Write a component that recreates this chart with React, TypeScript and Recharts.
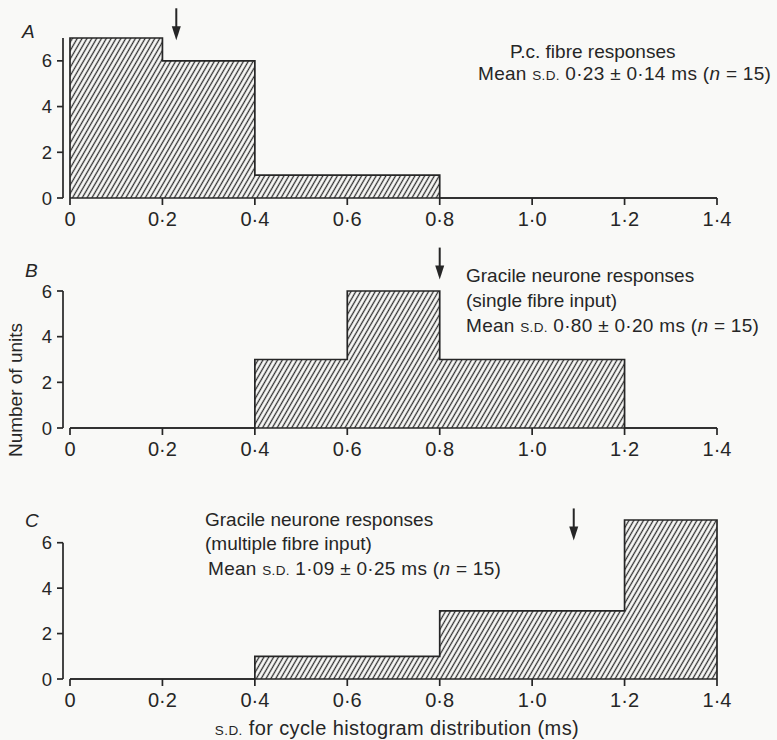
import React from "react";
import { AreaChart, Area, XAxis, YAxis, ReferenceLine, ReferenceDot } from "recharts";

// histogram bins (s.d. of cycle histogram, ms) and unit counts per panel
const binEdges = [0, 0.2, 0.4, 0.6, 0.8, 1.0, 1.2, 1.4];
const xTicks = [0, 0.2, 0.4, 0.6, 0.8, 1.0, 1.2, 1.4];
const yTicks = [0, 2, 4, 6];

const countsA = [7, 6, 1, 1, 0, 0, 0];
const countsB = [0, 0, 3, 6, 3, 3, 0];
const countsC = [0, 0, 1, 1, 3, 3, 7];

// mean s.d. per panel, shown by the arrows
const meanSd = [0.23, 0.8, 1.09];

const INK = "#262626";
const FONT = "'Liberation Sans', Arial, Helvetica, sans-serif";

function stepPoints(counts: number[]) {
  const pts = [{ x: binEdges[0], y: 0 }];
  counts.forEach((c, i) => pts.push({ x: binEdges[i], y: c }));
  const last = binEdges[binEdges.length - 1];
  pts.push({ x: last, y: counts[counts.length - 1] });
  pts.push({ x: last, y: 0 });
  return pts;
}

const fmtTick = (v: number) => (v === 0 ? "0" : v.toFixed(1).replace(".", "\u00b7"));

const Arrow = (p: any) => {
  const { cx, cy } = p;
  return (
    <g>
      <line x1={cx} y1={cy - 32} x2={cx} y2={cy - 12} stroke={INK} strokeWidth={2} />
      <path d={`M${cx - 4.5},${cy - 14} L${cx + 4.5},${cy - 14} L${cx},${cy} Z`} fill={INK} />
    </g>
  );
};

type PanelProps = {
  id: string;
  counts: number[];
  yMax: number;
  mean: number;
  tip: number;
  top: number;
  marginTop: number;
  plotHeight: number;
  axisDash?: string;
};

function Panel({ id, counts, yMax, mean, tip, top, marginTop, plotHeight, axisDash }: PanelProps) {
  const data = stepPoints(counts);
  const height = marginTop + plotHeight + 36;
  return (
    <div style={{ position: "absolute", left: 0, top }}>
      <AreaChart
        width={777}
        height={height}
        data={data}
        margin={{ top: marginTop, right: 60, left: 0, bottom: 0 }}
      >
        <defs>
          <pattern
            id={`hatch-${id}`}
            width={4.2}
            height={4.2}
            patternUnits="userSpaceOnUse"
            patternTransform="rotate(30)"
          >
            <line x1={2.1} y1={0} x2={2.1} y2={4.2} stroke="#2e2e2e" strokeWidth={1.3} />
          </pattern>
        </defs>
        <XAxis
          dataKey="x"
          type="number"
          domain={[0, 1.4]}
          ticks={xTicks}
          interval={0}
          padding={{ left: 7, right: 0 }}
          axisLine={false}
          tickLine={{ stroke: INK, strokeWidth: 1.7 }}
          tickSize={7}
          tickMargin={7}
          tick={{ fontSize: 20, fill: INK }}
          tickFormatter={fmtTick}
          height={36}
        />
        <YAxis
          type="number"
          domain={[0, yMax]}
          ticks={yTicks}
          interval={0}
          width={63}
          axisLine={{ stroke: INK, strokeWidth: 1.7, strokeDasharray: axisDash }}
          tickLine={{ stroke: INK, strokeWidth: 1.7 }}
          tickSize={6}
          tickMargin={5}
          tick={{ fontSize: 18.5, fill: INK }}
        />
        <Area
          type="stepAfter"
          dataKey="y"
          stroke={INK}
          strokeWidth={1.7}
          fill={`url(#hatch-${id})`}
          fillOpacity={1}
          dot={false}
          activeDot={false}
          isAnimationActive={false}
        />
        <ReferenceLine
          segment={[
            { x: 0, y: 0 },
            { x: 1.4, y: 0 },
          ]}
          stroke={INK}
          strokeWidth={1.7}
        />
        <ReferenceDot x={mean} y={tip} ifOverflow="visible" shape={Arrow} />
      </AreaChart>
    </div>
  );
}

const SD = () => <tspan fontSize={13.5}>S.D.</tspan>;
const N = () => <tspan fontStyle="italic">n</tspan>;

export default function App() {
  return (
    <div
      style={{
        position: "absolute",
        left: 0,
        top: 0,
        width: 777,
        height: 740,
        background: "#f9f9f7",
        fontFamily: FONT,
        overflow: "hidden",
      }}
    >
      <Panel id="a" counts={countsA} yMax={7} mean={meanSd[0]} tip={6.9} top={0} marginTop={38} plotHeight={160} />
      <Panel id="b" counts={countsB} yMax={6} mean={meanSd[1]} tip={6.5} top={240} marginTop={51} plotHeight={137} />
      <Panel
        id="c"
        counts={countsC}
        yMax={7}
        mean={meanSd[2]}
        tip={6.1}
        top={480}
        marginTop={40}
        plotHeight={159}
        axisDash="0 22.7 400"
      />
      <svg
        width={777}
        height={740}
        style={{ position: "absolute", left: 0, top: 0, pointerEvents: "none" }}
        fill={INK}
        fontSize={19}
      >
        <text x={22} y={38} fontStyle="italic">A</text>
        <text x={25} y={277} fontStyle="italic">B</text>
        <text x={25} y={527} fontStyle="italic">C</text>

        <text x={510} y={58}>P.c. fibre responses</text>
        <text x={478} y={80} letterSpacing={0.3}>
          Mean <SD /> 0·23 ± 0·14 ms (<N /> = 15)
        </text>

        <text x={466} y={282}>Gracile neurone responses</text>
        <text x={466} y={307}>(single fibre input)</text>
        <text x={466} y={332} letterSpacing={0.3}>
          Mean <SD /> 0·80 ± 0·20 ms (<N /> = 15)
        </text>

        <text x={205} y={526}>Gracile neurone responses</text>
        <text x={205} y={550}>(multiple fibre input)</text>
        <text x={208} y={575} letterSpacing={0.3}>
          Mean <SD /> 1·09 ± 0·25 ms (<N /> = 15)
        </text>

        <text x={22} y={390} transform="rotate(-90 22 390)" textAnchor="middle" fontSize={19}>
          Number of units
        </text>
        <text x={397} y={735} textAnchor="middle" fontSize={20} letterSpacing={0.4}>
          <SD /> for cycle histogram distribution (ms)
        </text>
      </svg>
    </div>
  );
}
